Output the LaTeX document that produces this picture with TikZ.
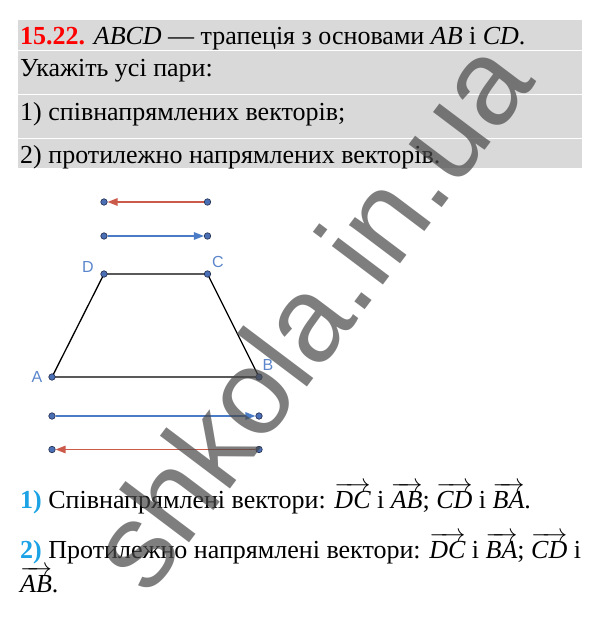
\documentclass[tikz,border=0pt]{standalone}
\usepackage{fontspec}
\setmainfont{Liberation Serif}
\newfontfamily\lsans{Liberation Sans}
\usetikzlibrary{arrows.meta}
\definecolor{boxgray}{HTML}{D9D9D9}
\definecolor{titlered}{HTML}{FF0000}
\definecolor{numcyan}{HTML}{1BA3E6}
\definecolor{vecred}{HTML}{CC5A4A}
\definecolor{vecblue}{HTML}{4A7BC6}
\definecolor{ptfill}{HTML}{4A6FB5}
\definecolor{ptdark}{HTML}{1E2A4A}
\definecolor{lblblue}{HTML}{5B86CC}
\definecolor{wmgray}{HTML}{484848}
\begin{document}
\begin{tikzpicture}[x=1pt,y=-1pt,
  txt/.style={anchor=base west, inner sep=0pt, font=\fontsize{26}{30}\selectfont},
  pt/.style={circle, fill=ptfill, draw=ptdark, line width=0.6pt, inner sep=0pt, minimum size=6.5pt},
  redvec/.style={draw=vecred, line width=1.3pt, -{Triangle[length=10pt,width=7.5pt]}},
  bluevec/.style={draw=vecblue, line width=1.3pt, -{Triangle[length=10pt,width=7.5pt]}},
  trap/.style={draw=black, line width=1.3pt, line join=round},
  lbl/.style={text=lblblue, inner sep=0pt, font=\lsans\fontsize{16}{16}\selectfont}]
\useasboundingbox (0,0) rectangle (600,620);
\fill[white] (0,0) rectangle (600,620);
% header box
\fill[boxgray] (18,20) rectangle (582,168);
\draw[white, line width=0.8pt] (18,50.5) -- (582,50.5);
\draw[white, line width=0.8pt] (18,94) -- (582,94);
\draw[white, line width=0.8pt] (18,138) -- (582,138);
\node[txt] (t1) at (20,45) {\textcolor{titlered}{\textbf{15.22.}} $\mathit{ABCD}$ — трапеція з основами $\mathit{AB}$ і $\mathit{CD}$.};
\node[txt] (t2) at (20,77) {Укажіть усі пари:};
\node[txt] (t3) at (20,121) {1) співнапрямлених векторів;};
\node[txt] (t4) at (20,164) {2) протилежно напрямлених векторів.};
% trapezoid
\coordinate (A) at (52,377);
\coordinate (B) at (259,377);
\coordinate (C) at (207.5,274);
\coordinate (D) at (104,274);
\draw[trap] (A) -- (B) -- (C) -- (D) -- cycle;
\node[pt] (Ad) at (A) {};
\node[pt] (Bd) at (B) {};
\node[pt] (Cd) at (C) {};
\node[pt] (Dd) at (D) {};
\node[lbl] (Al) at (37,377) {A};
\node[lbl] (Bl) at (268,365) {B};
\node[lbl] (Cl) at (218,262) {C};
\node[lbl] (Dl) at (88,266.5) {D};
% vectors
\node[pt] (r1a) at (104,202) {};
\node[pt] (r1b) at (207.5,202) {};
\draw[redvec] (r1b) -- (r1a);
\node[pt] (b1a) at (104,236) {};
\node[pt] (b1b) at (207.5,236) {};
\draw[bluevec] (b1a) -- (b1b);
\node[pt] (b2a) at (52,416) {};
\node[pt] (b2b) at (259,416) {};
\draw[bluevec] (b2a) -- (b2b);
\node[pt] (r2a) at (52,449.5) {};
\node[pt] (r2b) at (259,449.5) {};
\draw[redvec] (r2b) -- (r2a);
% answers
\node[txt] (s1) at (20,508) {\textcolor{numcyan}{\textbf{1)}} Співнапрямлені вектори: $\overrightarrow{\mathit{DC}}$ і $\overrightarrow{\mathit{AB}}$; $\overrightarrow{\mathit{CD}}$ і $\overrightarrow{\mathit{BA}}$.};
\node[txt] (s2) at (20,558) {\textcolor{numcyan}{\textbf{2)}} Протилежно напрямлені вектори: $\overrightarrow{\mathit{DC}}$ і $\overrightarrow{\mathit{BA}}$; $\overrightarrow{\mathit{CD}}$ і};
\node[txt] (s3) at (20,592) {$\overrightarrow{\mathit{AB}}$.};
% watermark
\node[rotate=53, text=wmgray, text opacity=0.7, inner sep=0pt, font=\lsans\fontsize{121}{121}\selectfont] (wm) at (308,314) {shkola.in.ua};
\end{tikzpicture}
\end{document}
